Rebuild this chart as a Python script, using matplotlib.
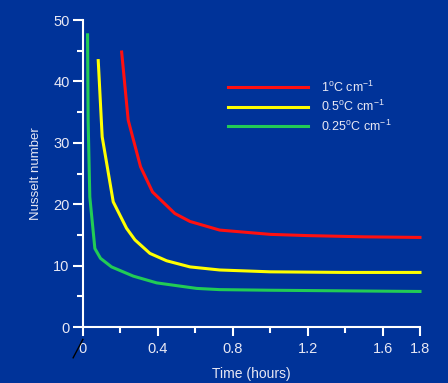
import matplotlib
matplotlib.use("Agg")
import matplotlib.pyplot as plt
from matplotlib.ticker import MultipleLocator

t_1 = [0.207, 0.242, 0.308, 0.372, 0.491, 0.572, 0.73, 1.0, 1.2, 1.5, 1.8]
nu_1 = [44.8, 33.7, 26.1, 22.0, 18.5, 17.2, 15.8, 15.1, 14.9, 14.7, 14.6]

t_05 = [0.082, 0.103, 0.162, 0.233, 0.278, 0.358, 0.447, 0.572, 0.73, 1.0, 1.4, 1.8]
nu_05 = [43.4, 31.0, 20.4, 16.1, 14.2, 12.0, 10.8, 9.8, 9.3, 9.0, 8.9, 8.9]

t_025 = [0.025, 0.028, 0.037, 0.064, 0.094, 0.153, 0.269, 0.394, 0.607, 0.73, 1.0, 1.4, 1.8]
nu_025 = [47.6, 33.7, 21.2, 12.8, 11.2, 9.8, 8.3, 7.2, 6.3, 6.1, 6.0, 5.9, 5.8]

x_ticks = [0, 0.4, 0.8, 1.2, 1.6, 1.8]
x_ticklabels = ["0", "0.4", "0.8", "1.2", "1.6", "1.8"]

labels = ["1$\\mathregular{^o}$C cm$\\mathregular{^{-1}}$",
          "0.5$\\mathregular{^o}$C cm$\\mathregular{^{-1}}$",
          "0.25$\\mathregular{^o}$C cm$\\mathregular{^{-1}}$"]
colors = ["#ff1010", "#ffff00", "#22cc55"]

bg = "#003399"
fg = "#e8e8f4"
plt.rcParams["font.family"] = ["Liberation Sans", "DejaVu Sans"]

fig = plt.figure(figsize=(4.48, 3.83), dpi=100, facecolor=bg)
ax = fig.add_axes([0.185, 0.146, 0.7525, 0.8016], facecolor=bg)

for t, nu, c, lab in zip([t_1, t_05, t_025], [nu_1, nu_05, nu_025], colors, labels):
    ax.plot(t, nu, color=c, lw=2.2, label=lab, clip_on=False)

ax.set_xlim(0, 1.8)
ax.set_ylim(0, 50)
ax.set_xticks(x_ticks)
ax.set_xticklabels(x_ticklabels)
ax.xaxis.set_minor_locator(MultipleLocator(0.2))
ax.yaxis.set_major_locator(MultipleLocator(10))
ax.yaxis.set_minor_locator(MultipleLocator(5))

for s in ["top", "right"]:
    ax.spines[s].set_visible(False)
for s in ["left", "bottom"]:
    ax.spines[s].set_color("white")
    ax.spines[s].set_linewidth(1.5)

ax.tick_params(which="major", length=7.5, width=1.5, color="white", labelcolor=fg,
               labelsize=10.5, pad=2)
ax.tick_params(which="minor", length=4.5, width=1.5, color="white")
ax.tick_params(axis="x", which="major", length=6.5, pad=4)
ax.tick_params(axis="x", which="minor", length=4)

ax.set_xlabel("Time (hours)", color=fg, fontsize=10, labelpad=8)
ax.set_ylabel("Nusselt number", color=fg, fontsize=9.5, labelpad=8)

leg = ax.legend(loc="upper left", bbox_to_anchor=(0.396, 0.843), frameon=False,
                handlelength=6.4, handletextpad=1.1, labelspacing=0.35, fontsize=9)
for txt in leg.get_texts():
    txt.set_color(fg)

# small stray slash near origin in the original
ax.plot([-0.052, 0.0], [-5.0, -2.0], color="black", lw=1, clip_on=False)

fig.savefig("out.png", dpi=100, facecolor=bg)
